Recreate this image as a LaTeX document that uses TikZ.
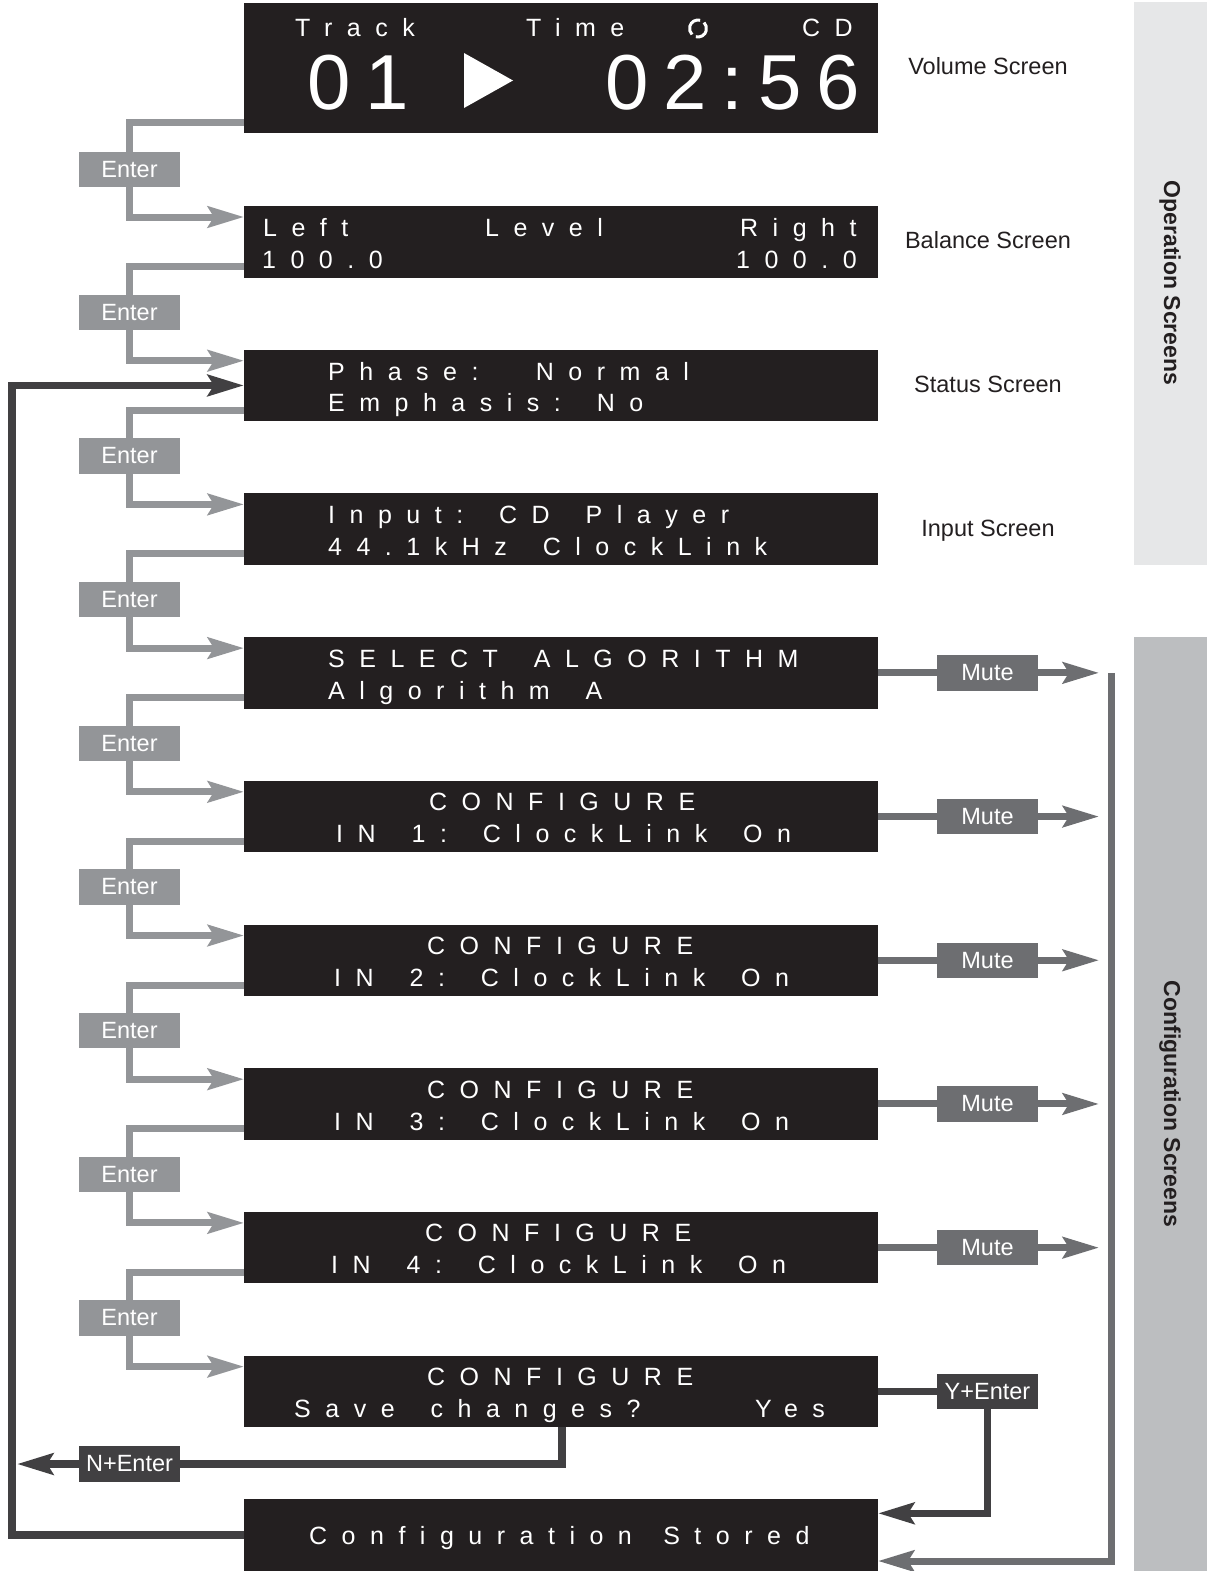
\documentclass[tikz,border=0pt]{standalone}
\usepackage{fontspec}
\setmainfont{Liberation Sans}
\newfontfamily\lcd[LetterSpace=58,Ligatures=CommonOff]{Liberation Sans}
\newfontfamily\lcdbig[LetterSpace=19]{Liberation Sans}
\usetikzlibrary{arrows.meta}
\definecolor{scr}{HTML}{231F20}
\definecolor{entgray}{HTML}{939598}
\definecolor{mutegray}{HTML}{6D6E71}
\definecolor{darkline}{HTML}{414042}
\definecolor{oppanel}{HTML}{E6E7E8}
\definecolor{cfgpanel}{HTML}{BCBEC0}
\definecolor{labtxt}{HTML}{231F20}
\newcommand\wsp{~\hspace{14.5pt}}
\begin{document}
\begin{tikzpicture}[x=1pt,y=-1pt,
  >={Stealth[length=36pt,width=21pt,inset=6pt]},
  screen/.style={fill=scr, draw=none, anchor=north west, minimum width=634pt, minimum height=71.5pt, inner sep=0pt, outer sep=0pt},
  lcdtxt/.style={text=white, inner sep=0pt, anchor=base west, font=\lcd\fontsize{25}{30}\selectfont},
  bigtxt/.style={text=white, inner sep=0pt, anchor=base west, font=\lcdbig\fontsize{78}{90}\selectfont},
  keybox/.style={minimum width=101pt, minimum height=35.5pt, inner sep=0pt, outer sep=0pt, text=white, font=\fontsize{23.5}{28}\selectfont},
  enterkey/.style={keybox, fill=entgray},
  mutekey/.style={keybox, fill=mutegray},
  darkkey/.style={keybox, fill=darkline},
  gconn/.style={draw=entgray, line width=7pt},
  mconn/.style={draw=mutegray, line width=7pt},
  dconn/.style={draw=darkline, line width=7.5pt},
  scrlabel/.style={text=labtxt, anchor=base, inner sep=0pt, font=\fontsize{23.5}{28}\selectfont},
  sidelabel/.style={text=labtxt, rotate=-90, inner sep=0pt, font=\bfseries\fontsize{23}{27}\selectfont},
]
\useasboundingbox (0,0) rectangle (1209,1571);

% side panels
\fill[oppanel] (1134,2) rectangle (1207,565);
\fill[cfgpanel] (1134,637) rectangle (1207,1571);
\node[sidelabel] (oplab) at (1170,283) {Operation Screens};
\node[sidelabel] (cfglab) at (1170,1104) {Configuration Screens};

% screens
\node[screen, minimum height=130pt] (s0) at (244,3) {};
\node[screen] (s1) at (244,206) {};
\node[screen] (s2) at (244,349.7) {};
\node[screen] (s3) at (244,493.4) {};
\node[screen] (s4) at (244,637.1) {};
\node[screen] (s5) at (244,780.8) {};
\node[screen] (s6) at (244,924.5) {};
\node[screen] (s7) at (244,1068.2) {};
\node[screen] (s8) at (244,1211.9) {};
\node[screen] (s9) at (244,1355.6) {};
\node[screen] (s10) at (244,1499.3) {};

% volume screen content
\node[lcdtxt] (t0a) at (295,37) {Track};
\node[lcdtxt] (t0b) at (526,37) {Time};
\node[lcdtxt] (t0c) at (802,37) {CD};
\draw[white, line width=3pt] (698,28.5) ++(75:8.5pt) arc[start angle=75, end angle=225, radius=8.5pt];
\draw[white, line width=3pt] (698,28.5) ++(255:8.5pt) arc[start angle=255, end angle=405, radius=8.5pt];
\node[bigtxt] (t0d) at (307,109) {01};
\fill[white] (464,53) -- (464,108) -- (513,80.5) -- cycle;
\node[bigtxt] (t0e) at (605,109) {02:56};

% balance
\node[lcdtxt] (t1a) at (263,236) {Left};
\node[lcdtxt] (t1b) at (485,236) {Level};
\node[lcdtxt] (t1c) at (740,236) {Right};
\node[lcdtxt] (t1d) at (262,268) {100.0};
\node[lcdtxt] (t1e) at (736,268) {100.0};
% status
\node[lcdtxt] (t2a) at (328,380.5) {Phase:~\wsp Normal};
\node[lcdtxt] (t2b) at (328,411.7) {Emphasis:\wsp No};
% input
\node[lcdtxt] (t3a) at (328,523.4) {Input:\wsp CD\wsp Player};
\node[lcdtxt] (t3b) at (328,555.4) {44.1kHz\wsp ClockLink};
% select
\node[lcdtxt] (t4a) at (328,667.1) {SELECT\wsp ALGORITHM};
\node[lcdtxt] (t4b) at (328,699.1) {Algorithm\wsp A};
% configure 1-4
\node[lcdtxt] (t5a) at (429,810.8) {CONFIGURE};
\node[lcdtxt] (t5b) at (336,842.8) {IN\wsp 1:\wsp ClockLink\wsp On};
\node[lcdtxt] (t6a) at (427,954.5) {CONFIGURE};
\node[lcdtxt] (t6b) at (334,986.5) {IN\wsp 2:\wsp ClockLink\wsp On};
\node[lcdtxt] (t7a) at (427,1098.2) {CONFIGURE};
\node[lcdtxt] (t7b) at (334,1130.2) {IN\wsp 3:\wsp ClockLink\wsp On};
\node[lcdtxt] (t8a) at (425,1241.9) {CONFIGURE};
\node[lcdtxt] (t8b) at (331,1273.9) {IN\wsp 4:\wsp ClockLink\wsp On};
% save
\node[lcdtxt] (t9a) at (427,1385.6) {CONFIGURE};
\node[lcdtxt] (t9b) at (294,1417.6) {Save\wsp changes?};
\node[lcdtxt] (t9c) at (755,1417.6) {Yes};
% stored
\node[lcdtxt] (t10a) at (309,1544.5) {Configuration~\hspace{10pt}Stored};

% screen labels
\node[scrlabel] (l0) at (988,74.5) {Volume Screen};
\node[scrlabel] (l1) at (988,248) {Balance Screen};
\node[scrlabel] (l2) at (988,392.5) {Status Screen};
\node[scrlabel] (l3) at (988,536.5) {Input Screen};

% enter keys
\node[enterkey] (e1) at (129.5,169.5) {Enter};
\node[enterkey] (e2) at (129.5,312.5) {Enter};
\node[enterkey] (e3) at (129.5,456) {Enter};
\node[enterkey] (e4) at (129.5,599.5) {Enter};
\node[enterkey] (e5) at (129.5,743.5) {Enter};
\node[enterkey] (e6) at (129.5,887) {Enter};
\node[enterkey] (e7) at (129.5,1030.5) {Enter};
\node[enterkey] (e8) at (129.5,1174.5) {Enter};
\node[enterkey] (e9) at (129.5,1318) {Enter};

% enter connectors
\foreach \a/\k/\b in {s0/e1/s1, s1/e2/s2, s2/e3/s3, s3/e4/s4, s4/e5/s5, s5/e6/s6, s6/e7/s7, s7/e8/s8, s8/e9/s9}{
  \draw[gconn] ([yshift=11pt]\a.south west) -| (\k.north);
  \draw[gconn,->] (\k.south) |- ([yshift=-11pt]\b.north west);
}

% mute keys and connectors
\coordinate (mkx) at (987.5,0);
\coordinate (mtip) at (1099,0);
\foreach \s/\m in {s4/m4, s5/m5, s6/m6, s7/m7, s8/m8}{
  \node[mutekey] (\m) at (\s.east -| mkx) {Mute};
  \draw[mconn] (\s.east) -- (\m.west);
  \draw[mconn,->] (\m.east) -- (\m.east -| mtip);
}
\coordinate (mtop) at (1111,672.85);
\coordinate (mbot) at (1111,1561);
\draw[mconn,->] (mtop) -- (mbot) -- (s10.east |- mbot);

% Y+Enter
\node[darkkey] (yk) at (s9.east -| mkx) {Y+Enter};
\draw[dconn] (s9.east) -- (yk.west);
\draw[dconn,->] (yk.south) |- ([yshift=-14pt]s10.north east);

% N+Enter
\node[darkkey] (nk) at (129.5,1464) {N+Enter};
\coordinate (ntip) at (17,0);
\draw[dconn] ([xshift=318pt]s9.south west) |- (nk.east);
\draw[dconn,->] (nk.west) -- (nk.west -| ntip);

% return loop
\coordinate (loopx) at (12,0);
\coordinate (loopTL) at (s2.west -| loopx);
\draw[dconn,->] (s10.west) -| (loopTL) -- (s2.west);
\end{tikzpicture}
\end{document}
